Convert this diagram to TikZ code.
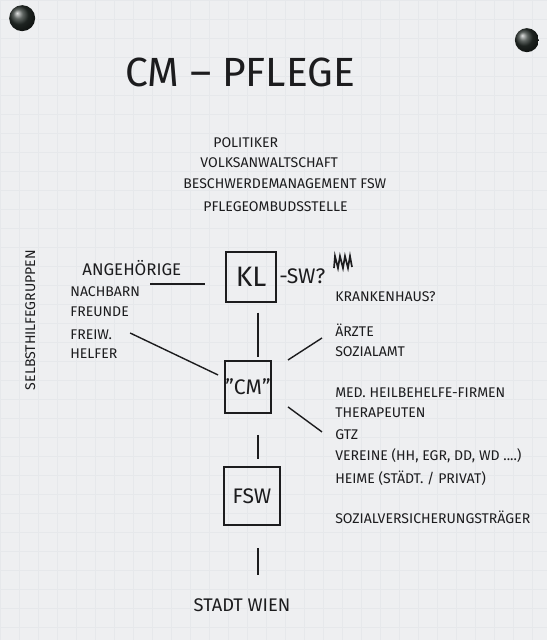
\documentclass[tikz,border=0pt]{standalone}
\usepackage{fontspec}
\setmainfont{Fira Sans}
\begin{document}
\begin{tikzpicture}[x=0.25mm,y=-0.25mm,font=\fontsize{10}{12}\selectfont]
\definecolor{ink}{HTML}{1C1C1E}\definecolor{paper}{HTML}{EEEFF1}
\definecolor{grid}{HTML}{E6E8EB}\definecolor{pin}{HTML}{2A322E}
\tikzset{
  box/.style={draw=ink,line width=1.1pt,text=ink,inner sep=0pt,
    minimum width=12.5mm,minimum height=12.5mm,font=\fontsize{20}{22}\selectfont},
  link/.style={draw=ink,line width=1pt},
  item/.style={anchor=west,text=ink,inner sep=0pt}
}
% flipchart sheet
\fill[paper] (0,0) rectangle (547,640);
\draw[grid,line width=.25pt,step=4.75mm] (0,0) grid (547,640);
\useasboundingbox (0,0) rectangle (547,640);
\shade[ball color=pin] (22,18) circle (13);
\shade[ball color=pin] (527,40) circle (12);
% title
\node[text=ink,font=\fontsize{29}{32}\selectfont] (title) at (240,72) {CM -- PFLEGE};
% top block
\node[item] (politik) at (213,143) {POLITIKER};
\node[item] (volk) at (200,163) {VOLKSANWALTSCHAFT};
\node[item] (beschw) at (183,184) {BESCHWERDEMANAGEMENT FSW};
\node[item] (ombuds) at (203,207) {PFLEGEOMBUDSSTELLE};
% boxes down the middle
\node[box] (kl) at (251,277) {KL};
\node[box,minimum width=11.5mm,minimum height=13mm,font=\fontsize{15}{18}\selectfont] (cm) at (248,387) {"CM"};
\node[box,minimum width=14mm,minimum height=14.5mm,font=\fontsize{15}{18}\selectfont] (fsw) at (252,496) {FSW};
\node[item,font=\fontsize{15}{18}\selectfont] (sw) at (279,276) {-SW?};
\draw[ink,line width=1.2pt] (334,268) -- (335,256) -- (338,268) -- (340,256) -- (343,268)
  -- (345,256) -- (348,268) -- (350,256) -- (352,267);
\node[text=ink,font=\fontsize{13}{15}\selectfont] (wien) at (242,605) {STADT WIEN};
% left block
\node[item,font=\fontsize{12}{14}\selectfont] (angeh) at (82,268) {ANGEHÖRIGE};
\node[item] (nachb) at (70,292) {NACHBARN};
\node[item] (freunde) at (70,312) {FREUNDE};
\node[item] (freiw) at (70,335) {FREIW.};
\node[item] (helfer) at (70,354) {HELFER};
\node[text=ink,rotate=90] (shg) at (30,320) {SELBSTHILFEGRUPPEN};
% right block
\node[item] (kh) at (335,297) {KRANKENHAUS?};
\node[item] (aerzte) at (335,330) {ÄRZTE};
\node[item] (sozamt) at (335,352) {SOZIALAMT};
\node[item] (med) at (335,393) {MED. HEILBEHELFE-FIRMEN};
\node[item] (thera) at (335,413) {THERAPEUTEN};
\node[item] (gtz) at (335,435) {GTZ};
\node[item] (vereine) at (335,456) {VEREINE (HH, EGR, DD, WD ....)};
\node[item] (heime) at (335,478) {HEIME (STÄDT. / PRIVAT)};
\node[item] (svt) at (335,517) {SOZIALVERSICHERUNGSTRÄGER};
% connectors
\coordinate (spine) at (258,0);
\coordinate (angend) at (150,284);
\coordinate (klwest) at (205,284);
\coordinate (freiwend) at (130,333);
\coordinate (aerztend) at (322,338);
\coordinate (gtzend) at (322,432);
\coordinate (cmne) at (288,360);
\coordinate (cmse) at (288,407);
\coordinate (cmsw) at (218,375);
\draw[link] (angend) -- (klwest);
\draw[link] (freiwend) -- (cmsw);
\draw[link,shorten <=7pt,shorten >=2pt] (kl.south -| spine) -- (cm.north -| spine);
\draw[link] (cmne) -- (aerztend);
\draw[link] (cmse) -- (gtzend);
\draw[link,shorten <=15pt,shorten >=5pt] (cm.south -| spine) -- (fsw.north -| spine);
\draw[link,shorten <=16pt,shorten >=13pt] (fsw.south -| spine) -- (wien.north -| spine);
\end{tikzpicture}
\end{document}
